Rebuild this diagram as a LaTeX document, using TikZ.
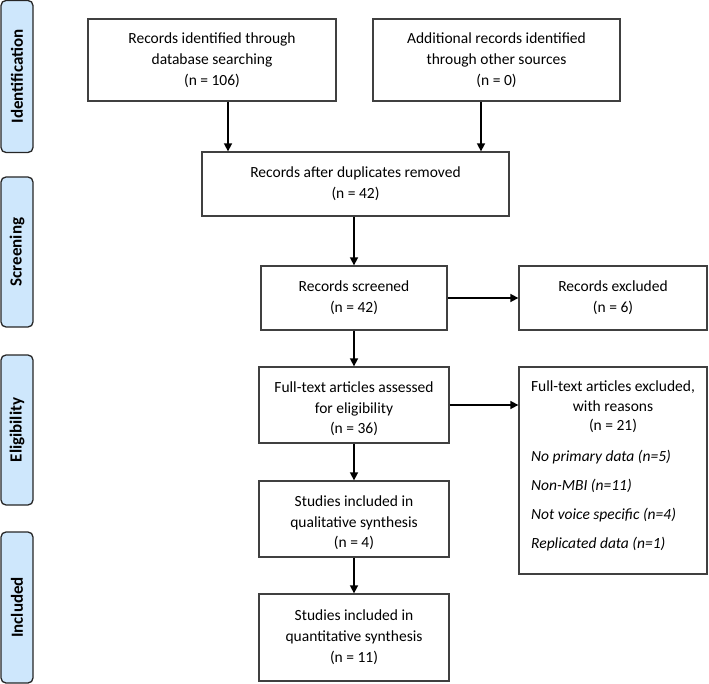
\documentclass[tikz,border=0pt]{standalone}
\usepackage{fontspec}
\setmainfont{Carlito}
\usetikzlibrary{arrows.meta}
\definecolor{sideblue}{RGB}{206,231,252}
\definecolor{edge}{RGB}{64,64,64}
\tikzset{
  box/.style={draw=edge, line width=1.3pt, fill=white, align=center, inner sep=0pt,
    font=\fontsize{15.5}{21}\selectfont},
  boxtext/.style={align=center, inner sep=0pt, font=\fontsize{15.5}{20.5}\selectfont},
  side/.style={draw=black!85, line width=1.3pt, fill=sideblue, rounded corners=5pt,
    rotate=90, minimum height=32pt, inner sep=0pt,
    font=\bfseries\fontsize{17}{20}\selectfont},
  arr/.style={draw=black, line width=1.6pt, -{Triangle[length=8pt,width=8pt]}}
}
\begin{document}
\begin{tikzpicture}[x=1pt,y=-1pt]
\useasboundingbox (0,0) rectangle (709,684);
% side labels
\node[side, minimum width=152pt] (sid) at (17,76.5) {Identification};
\node[side, minimum width=150pt] (sscr) at (17,252) {Screening};
\node[side, minimum width=150pt] (selig) at (17,430) {Eligibility};
\node[side, minimum width=151pt] (sinc) at (17,607.5) {Included};
% boxes
\node[box, minimum width=248pt, minimum height=82pt] (db) at (212,60)
  {Records identified through\\database searching\\(n = 106)};
\node[box, minimum width=247pt, minimum height=82pt] (other) at (496.5,60)
  {Additional records identified\\through other sources\\(n = 0)};
\node[box, minimum width=307pt, minimum height=64pt] (dup) at (355.5,184)
  {Records after duplicates removed\\(n = 42)};
\node[box, minimum width=186pt, minimum height=64pt] (scr) at (354,298)
  {Records screened\\(n = 42)};
\node[box, minimum width=188pt, minimum height=64pt] (exc) at (613,298)
  {Records excluded\\(n = 6)};
\node[box, minimum width=190pt, minimum height=76pt] (full) at (354,405) {};
\node[boxtext] (fulltext) at (354,409)
  {Full-text articles assessed\\for eligibility\\(n = 36)};
\node[box, minimum width=188pt, minimum height=207pt] (fexc) at (613,470.5) {};
\node[boxtext, font=\fontsize{15.5}{19.5}\selectfont] (fexchead) at (613,407)
  {Full-text articles excluded,\\with reasons\\(n = 21)};
\node[anchor=west, align=left, inner sep=0pt, font=\itshape\fontsize{15.5}{29}\selectfont] (fexclist) at (531,501)
  {No primary data (n=5)\\Non-MBI (n=11)\\Not voice specific (n=4)\\Replicated data (n=1)};
\node[box, minimum width=190pt, minimum height=76pt] (qual) at (354,519) {};
\node[boxtext] (qualtext) at (354,523)
  {Studies included in\\qualitative synthesis\\(n = 4)};
\node[box, minimum width=190pt, minimum height=87pt] (quant) at (354,637.5)
  {Studies included in\\quantitative synthesis\\(n = 11)};
% connectors
\draw[arr] ([xshift=16pt]db.south) -- ([xshift=16pt]db.south |- dup.north);
\draw[arr] ([xshift=-15.5pt]other.south) -- ([xshift=-15.5pt]other.south |- dup.north);
\draw[arr] (dup.south -| scr.north) -- (scr.north);
\draw[arr] (scr.south -| full.north) -- (full.north);
\draw[arr] (full) -- (qual);
\draw[arr] (qual) -- (quant);
\draw[arr] (scr.east) -- (scr.east -| exc.west);
\draw[arr] (full.east) -- (full.east -| fexc.west);
\end{tikzpicture}
\end{document}
